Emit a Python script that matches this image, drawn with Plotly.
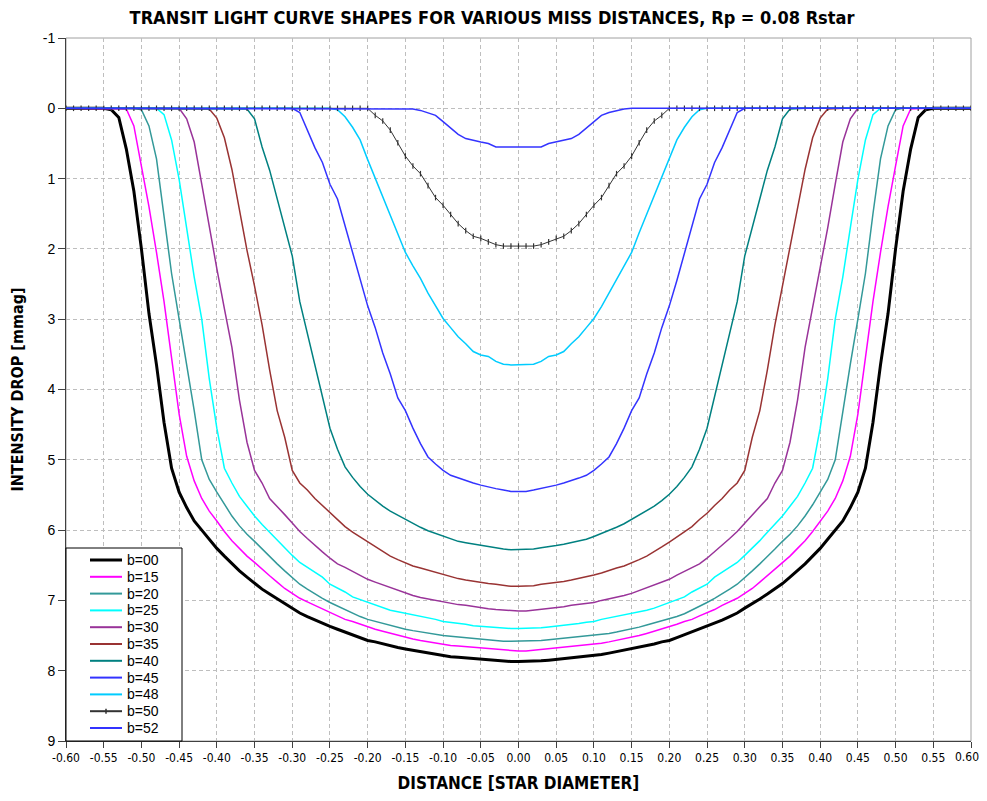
import plotly.graph_objects as go

# distance from mid-transit, star diameters (one sample every 0.01)
distance = [round(-0.60 + 0.01 * i, 2) for i in range(121)]

# axis ticks as Excel prints them (plain hyphen minus)
x_ticks = [-0.60, -0.55, -0.50, -0.45, -0.40, -0.35, -0.30, -0.25, -0.20, -0.15, -0.10, -0.05,
           0.00, 0.05, 0.10, 0.15, 0.20, 0.25, 0.30, 0.35, 0.40, 0.45, 0.50, 0.55, 0.60]
x_tick_labels = ['-0.60', '-0.55', '-0.50', '-0.45', '-0.40', '-0.35', '-0.30', '-0.25', '-0.20',
                 '-0.15', '-0.10', '-0.05', '0.00', '0.05', '0.10', '0.15', '0.20', '0.25',
                 '0.30', '0.35', '0.40', '0.45', '0.50', '0.55', '0.60']
y_ticks = [-1, 0, 1, 2, 3, 4, 5, 6, 7, 8, 9]
y_tick_labels = ['-1', '0', '1', '2', '3', '4', '5', '6', '7', '8', '9']

# intensity drop [mmag], left to right
b00 = [0, 0, 0, 0, 0, 0, 0.02, 0.13, 0.58, 1.18,
       2.00, 2.92, 3.65, 4.47, 5.12, 5.46, 5.68, 5.87, 6.00, 6.13,
       6.26, 6.37, 6.48, 6.58, 6.67, 6.76, 6.84, 6.91, 6.98, 7.05,
       7.11, 7.18, 7.23, 7.28, 7.32, 7.37, 7.41, 7.45, 7.49, 7.53,
       7.57, 7.59, 7.62, 7.64, 7.67, 7.69, 7.71, 7.73, 7.75, 7.77,
       7.79, 7.80, 7.81, 7.82, 7.83, 7.84, 7.85, 7.86, 7.86, 7.87,
       7.87,
       7.87, 7.86, 7.86, 7.85, 7.84, 7.83, 7.82, 7.81, 7.80, 7.79,
       7.77, 7.75, 7.73, 7.71, 7.69, 7.67, 7.64, 7.62, 7.59, 7.57,
       7.53, 7.49, 7.45, 7.41, 7.37, 7.32, 7.28, 7.23, 7.18, 7.11,
       7.05, 6.98, 6.91, 6.84, 6.76, 6.67, 6.58, 6.48, 6.37, 6.26,
       6.13, 6.00, 5.87, 5.68, 5.46, 5.12, 4.47, 3.65, 2.92, 2.00,
       1.18, 0.58, 0.13, 0.02, 0, 0, 0, 0, 0, 0]

b15 = [0, 0, 0, 0, 0, 0, 0, 0, 0.01, 0.25,
       0.82, 1.40, 2.05, 2.75, 3.55, 4.35, 4.95, 5.30, 5.55, 5.73,
       5.87, 6.02, 6.15, 6.26, 6.37, 6.46, 6.56, 6.65, 6.74, 6.83,
       6.90, 6.97, 7.02, 7.07, 7.13, 7.18, 7.22, 7.27, 7.30, 7.34,
       7.38, 7.41, 7.44, 7.47, 7.50, 7.53, 7.55, 7.57, 7.59, 7.61,
       7.62, 7.64, 7.65, 7.66, 7.67, 7.68, 7.69, 7.70, 7.71, 7.72,
       7.72,
       7.72, 7.71, 7.70, 7.69, 7.68, 7.67, 7.66, 7.65, 7.64, 7.62,
       7.61, 7.59, 7.57, 7.55, 7.53, 7.50, 7.47, 7.44, 7.41, 7.38,
       7.34, 7.30, 7.27, 7.22, 7.18, 7.13, 7.07, 7.02, 6.97, 6.90,
       6.83, 6.74, 6.65, 6.56, 6.46, 6.37, 6.26, 6.15, 6.02, 5.87,
       5.73, 5.55, 5.30, 4.95, 4.35, 3.55, 2.75, 2.05, 1.40, 0.82,
       0.25, 0.01, 0, 0, 0, 0, 0, 0, 0, 0]

b20 = [0, 0, 0, 0, 0, 0, 0, 0, 0, 0,
       0.02, 0.25, 0.72, 1.50, 2.35, 3.00, 3.64, 4.30, 5.00, 5.28,
       5.46, 5.64, 5.80, 5.94, 6.06, 6.16, 6.27, 6.38, 6.48, 6.58,
       6.68, 6.77, 6.84, 6.91, 6.97, 7.03, 7.08, 7.14, 7.19, 7.23,
       7.27, 7.30, 7.32, 7.35, 7.38, 7.41, 7.43, 7.45, 7.47, 7.48,
       7.50, 7.51, 7.52, 7.53, 7.54, 7.55, 7.56, 7.57, 7.58, 7.58,
       7.58,
       7.58, 7.58, 7.57, 7.56, 7.55, 7.54, 7.53, 7.52, 7.51, 7.50,
       7.48, 7.47, 7.45, 7.43, 7.41, 7.38, 7.35, 7.32, 7.30, 7.27,
       7.23, 7.19, 7.14, 7.08, 7.03, 6.97, 6.91, 6.84, 6.77, 6.68,
       6.58, 6.48, 6.38, 6.27, 6.16, 6.06, 5.94, 5.80, 5.64, 5.46,
       5.28, 5.00, 4.30, 3.64, 3.00, 2.35, 1.50, 0.72, 0.25, 0.02,
       0, 0, 0, 0, 0, 0, 0, 0, 0, 0]

b25 = [0, 0, 0, 0, 0, 0, 0, 0, 0, 0,
       0, 0, 0, 0.09, 0.45, 1.01, 1.70, 2.40, 3.00, 3.85,
       4.55, 5.12, 5.33, 5.52, 5.66, 5.80, 5.92, 6.03, 6.15, 6.26,
       6.36, 6.46, 6.53, 6.60, 6.67, 6.77, 6.82, 6.88, 6.95, 6.99,
       7.03, 7.07, 7.11, 7.14, 7.16, 7.18, 7.21, 7.23, 7.25, 7.27,
       7.30, 7.31, 7.33, 7.34, 7.36, 7.37, 7.38, 7.39, 7.40, 7.40,
       7.40,
       7.40, 7.40, 7.39, 7.38, 7.37, 7.36, 7.34, 7.33, 7.31, 7.30,
       7.27, 7.25, 7.23, 7.21, 7.18, 7.16, 7.14, 7.11, 7.07, 7.03,
       6.99, 6.95, 6.88, 6.82, 6.77, 6.67, 6.60, 6.53, 6.46, 6.36,
       6.26, 6.15, 6.03, 5.92, 5.80, 5.66, 5.52, 5.33, 5.12, 4.55,
       3.85, 3.00, 2.40, 1.70, 1.01, 0.45, 0.09, 0, 0, 0,
       0, 0, 0, 0, 0, 0, 0, 0, 0, 0]

b30 = [0, 0, 0, 0, 0, 0, 0, 0, 0, 0,
       0, 0, 0, 0, 0, 0, 0.15, 0.48, 1.08, 1.70,
       2.28, 2.85, 3.40, 4.15, 4.75, 5.15, 5.33, 5.55, 5.66, 5.78,
       5.90, 6.02, 6.12, 6.22, 6.31, 6.40, 6.48, 6.53, 6.59, 6.64,
       6.70, 6.74, 6.78, 6.82, 6.86, 6.90, 6.93, 6.96, 6.98, 7.00,
       7.03, 7.04, 7.06, 7.07, 7.09, 7.10, 7.12, 7.13, 7.14, 7.15,
       7.15,
       7.15, 7.14, 7.13, 7.12, 7.10, 7.09, 7.07, 7.06, 7.04, 7.03,
       7.00, 6.98, 6.96, 6.93, 6.90, 6.86, 6.82, 6.78, 6.74, 6.70,
       6.64, 6.59, 6.53, 6.48, 6.40, 6.31, 6.22, 6.12, 6.02, 5.90,
       5.78, 5.66, 5.55, 5.33, 5.15, 4.75, 4.15, 3.40, 2.85, 2.28,
       1.70, 1.08, 0.48, 0.15, 0, 0, 0, 0, 0, 0,
       0, 0, 0, 0, 0, 0, 0, 0, 0, 0]

b35 = [0, 0, 0, 0, 0, 0, 0, 0, 0, 0,
       0, 0, 0, 0, 0, 0, 0, 0, 0, 0.01,
       0.14, 0.42, 0.87, 1.45, 2.02, 2.53, 3.08, 3.72, 4.30, 4.68,
       5.15, 5.33, 5.43, 5.55, 5.65, 5.76, 5.85, 5.95, 6.03, 6.10,
       6.17, 6.24, 6.31, 6.37, 6.42, 6.47, 6.51, 6.54, 6.57, 6.61,
       6.64, 6.67, 6.69, 6.71, 6.73, 6.75, 6.76, 6.77, 6.79, 6.80,
       6.80,
       6.80, 6.79, 6.77, 6.76, 6.75, 6.73, 6.71, 6.69, 6.67, 6.64,
       6.61, 6.57, 6.54, 6.51, 6.47, 6.42, 6.37, 6.31, 6.24, 6.17,
       6.10, 6.03, 5.95, 5.85, 5.76, 5.65, 5.55, 5.43, 5.33, 5.15,
       4.68, 4.30, 3.72, 3.08, 2.53, 2.02, 1.45, 0.87, 0.42, 0.14,
       0.01, 0, 0, 0, 0, 0, 0, 0, 0, 0,
       0, 0, 0, 0, 0, 0, 0, 0, 0, 0]

b40 = [0, 0, 0, 0, 0, 0, 0, 0, 0, 0,
       0, 0, 0, 0, 0, 0, 0, 0, 0, 0,
       0, 0, 0, 0, 0.01, 0.15, 0.55, 0.88, 1.30, 1.68,
       2.10, 2.75, 3.20, 3.62, 4.10, 4.55, 4.85, 5.10, 5.25, 5.38,
       5.49, 5.58, 5.66, 5.73, 5.79, 5.85, 5.91, 5.96, 6.01, 6.05,
       6.09, 6.13, 6.16, 6.18, 6.20, 6.22, 6.24, 6.25, 6.27, 6.28,
       6.28,
       6.28, 6.27, 6.25, 6.24, 6.22, 6.20, 6.18, 6.16, 6.13, 6.09,
       6.05, 6.01, 5.96, 5.91, 5.85, 5.79, 5.73, 5.66, 5.58, 5.49,
       5.38, 5.25, 5.10, 4.85, 4.55, 4.10, 3.62, 3.20, 2.75, 2.10,
       1.68, 1.30, 0.88, 0.55, 0.15, 0.01, 0, 0, 0, 0,
       0, 0, 0, 0, 0, 0, 0, 0, 0, 0,
       0, 0, 0, 0, 0, 0, 0, 0, 0, 0]

b45 = [0, 0, 0, 0, 0, 0, 0, 0, 0, 0,
       0, 0, 0, 0, 0, 0, 0, 0, 0, 0,
       0, 0, 0, 0, 0, 0, 0, 0, 0, 0,
       0, 0.06, 0.30, 0.56, 0.77, 1.08, 1.29, 1.68, 2.05, 2.45,
       2.81, 3.12, 3.48, 3.78, 4.12, 4.30, 4.55, 4.77, 4.96, 5.06,
       5.15, 5.22, 5.26, 5.30, 5.33, 5.36, 5.39, 5.41, 5.43, 5.45,
       5.45,
       5.45, 5.43, 5.41, 5.39, 5.36, 5.33, 5.30, 5.26, 5.22, 5.15,
       5.06, 4.96, 4.77, 4.55, 4.30, 4.12, 3.78, 3.48, 3.12, 2.81,
       2.45, 2.05, 1.68, 1.29, 1.08, 0.77, 0.56, 0.30, 0.06, 0,
       0, 0, 0, 0, 0, 0, 0, 0, 0, 0,
       0, 0, 0, 0, 0, 0, 0, 0, 0, 0,
       0, 0, 0, 0, 0, 0, 0, 0, 0, 0]

b48 = [0, 0, 0, 0, 0, 0, 0, 0, 0, 0,
       0, 0, 0, 0, 0, 0, 0, 0, 0, 0,
       0, 0, 0, 0, 0, 0, 0, 0, 0, 0,
       0, 0, 0, 0, 0, 0, 0.02, 0.12, 0.27, 0.45,
       0.73, 0.99, 1.25, 1.51, 1.77, 2.05, 2.24, 2.42, 2.63, 2.82,
       2.99, 3.12, 3.25, 3.35, 3.46, 3.51, 3.53, 3.60, 3.64, 3.65,
       3.65,
       3.65, 3.64, 3.60, 3.53, 3.51, 3.46, 3.35, 3.25, 3.12, 2.99,
       2.82, 2.63, 2.42, 2.24, 2.05, 1.77, 1.51, 1.25, 0.99, 0.73,
       0.45, 0.27, 0.12, 0.02, 0, 0, 0, 0, 0, 0,
       0, 0, 0, 0, 0, 0, 0, 0, 0, 0,
       0, 0, 0, 0, 0, 0, 0, 0, 0, 0,
       0, 0, 0, 0, 0, 0, 0, 0, 0, 0]

b50 = [0, 0, 0, 0, 0, 0, 0, 0, 0, 0,
       0, 0, 0, 0, 0, 0, 0, 0, 0, 0,
       0, 0, 0, 0, 0, 0, 0, 0, 0, 0,
       0, 0, 0, 0, 0, 0, 0, 0, 0, 0,
       0, 0.10, 0.18, 0.31, 0.49, 0.68, 0.82, 0.93, 1.10, 1.27,
       1.38, 1.51, 1.64, 1.74, 1.82, 1.85, 1.90, 1.94, 1.96, 1.96,
       1.96,
       1.96, 1.96, 1.94, 1.90, 1.85, 1.82, 1.74, 1.64, 1.51, 1.38,
       1.27, 1.10, 0.93, 0.82, 0.68, 0.49, 0.31, 0.18, 0.10, 0,
       0, 0, 0, 0, 0, 0, 0, 0, 0, 0,
       0, 0, 0, 0, 0, 0, 0, 0, 0, 0,
       0, 0, 0, 0, 0, 0, 0, 0, 0, 0,
       0, 0, 0, 0, 0, 0, 0, 0, 0, 0]

b52 = [0, 0, 0, 0, 0, 0, 0, 0, 0, 0,
       0, 0, 0, 0, 0, 0, 0, 0, 0, 0,
       0, 0, 0, 0, 0, 0, 0, 0, 0, 0,
       0, 0, 0, 0, 0, 0, 0, 0, 0, 0,
       0, 0, 0, 0, 0, 0, 0.01, 0.03, 0.06, 0.10,
       0.19, 0.28, 0.37, 0.43, 0.46, 0.48, 0.50, 0.55, 0.55, 0.55,
       0.55,
       0.55, 0.55, 0.55, 0.50, 0.48, 0.46, 0.43, 0.37, 0.28, 0.19,
       0.10, 0.06, 0.03, 0.01, 0, 0, 0, 0, 0, 0,
       0, 0, 0, 0, 0, 0, 0, 0, 0, 0,
       0, 0, 0, 0, 0, 0, 0, 0, 0, 0,
       0, 0, 0, 0, 0, 0, 0, 0, 0, 0,
       0, 0, 0, 0, 0, 0, 0, 0, 0, 0]

names = ['b=00', 'b=15', 'b=20', 'b=25', 'b=30', 'b=35', 'b=40', 'b=45', 'b=48', 'b=50', 'b=52']
curves = [b00, b15, b20, b25, b30, b35, b40, b45, b48, b50, b52]
colors = ['#000000', '#FF00FF', '#339999', '#00FFFF', '#993399', '#993333',
          '#008080', '#3333FF', '#00CCFF', '#333333', '#3333FF']

for c in curves:
    assert len(c) == len(distance)

NARROW = "Liberation Sans Narrow, Arial Narrow, DejaVu Sans Condensed, sans-serif"
SANS = "Liberation Sans, Arial, sans-serif"

fig = go.Figure()
for name, y, col in zip(names, curves, colors):
    if name == 'b=50':
        fig.add_trace(go.Scatter(x=distance, y=y, name=name, mode='lines+markers',
                                 line=dict(color=col, width=1),
                                 marker=dict(symbol='line-ns-open', size=4,
                                             line=dict(color=col, width=1.2))))
    else:
        fig.add_trace(go.Scatter(x=distance, y=y, name=name, mode='lines',
                                 line=dict(color=col, width=3 if name == 'b=00' else 1.5)))

# Excel style legend box in the lower left corner, drawn by hand
# (plotly's own legend rows are too tall); sizes in screen pixels
PLOT_L, PLOT_R, PLOT_T, PLOT_B = 66, 971, 38, 741


def px_x(sx):
    return (sx - PLOT_L) / (PLOT_R - PLOT_L)


def px_y(sy):
    return (PLOT_B - sy) / (PLOT_B - PLOT_T)


shapes = [dict(type='rect', xref='paper', yref='paper', x0=0, x1=1, y0=0, y1=1,
               line=dict(color='#A0A0A0', width=1), layer='below'),
          dict(type='rect', xref='paper', yref='paper',
               x0=px_x(PLOT_L), x1=px_x(182), y0=px_y(PLOT_B), y1=px_y(548),
               fillcolor='white', line=dict(color='black', width=1), layer='above')]
annotations = []
for i, (name, col) in enumerate(zip(names, colors)):
    row = 560 + 16.8 * i
    shapes.append(dict(type='line', xref='paper', yref='paper',
                       x0=px_x(90), x1=px_x(122), y0=px_y(row), y1=px_y(row),
                       line=dict(color=col, width=3 if name == 'b=00' else 2), layer='above'))
    if name == 'b=50':
        shapes.append(dict(type='line', xref='paper', yref='paper',
                           x0=px_x(106), x1=px_x(106), y0=px_y(row - 2.5), y1=px_y(row + 2.5),
                           line=dict(color=col, width=1.5), layer='above'))
    annotations.append(dict(text=name, xref='paper', yref='paper', x=px_x(125), y=px_y(row),
                            xanchor='left', yanchor='middle', showarrow=False,
                            font=dict(family=SANS, size=14, color='black')))

# the last x label sits on the page edge: draw it nudged inwards so it is not clipped
x_tick_text = x_tick_labels[:-1] + ['']
annotations.append(dict(text=x_tick_labels[-1], xref='paper', yref='paper', x=1, y=0,
                        xanchor='center', yanchor='middle', xshift=-4, yshift=-16,
                        showarrow=False, font=dict(family=NARROW, size=12, color='black')))

# the page body adds an 8 px margin on every side; keep the figure inside the
# 987x801 window so no scrollbars appear
fig.update_layout(
    width=971, height=785,
    margin=dict(l=58, r=8, t=30, b=52),
    paper_bgcolor='white', plot_bgcolor='white',
    title=dict(text='<b>TRANSIT LIGHT CURVE SHAPES FOR VARIOUS MISS DISTANCES, Rp = 0.08 Rstar</b>',
               x=484 / 971, xref='container', xanchor='center',
               y=1 - 3 / 785, yref='container', yanchor='top',
               font=dict(family=NARROW, size=18, color='black')),
    showlegend=False,
    shapes=shapes,
    annotations=annotations,
    xaxis=dict(
        range=[-0.6, 0.6], tickvals=x_ticks, ticktext=x_tick_text,
        ticks='outside', ticklen=6, tickcolor='#404040',
        showline=True, linecolor='#404040', automargin=False,
        showgrid=True, gridcolor='#BEBEBE', griddash='4px,3px', gridwidth=1,
        zeroline=False,
        tickfont=dict(family=NARROW, size=12, color='black'),
        title=dict(text='<b>DISTANCE [STAR DIAMETER]</b>', standoff=15,
                   font=dict(family=NARROW, size=17, color='black')),
    ),
    yaxis=dict(
        range=[9, -1], tickvals=y_ticks, ticktext=y_tick_labels,
        ticks='outside', ticklen=7, tickcolor='#404040',
        showline=True, linecolor='#404040', automargin=False,
        showgrid=True, gridcolor='#BEBEBE', griddash='4px,3px', gridwidth=1,
        zeroline=False,
        tickfont=dict(family=SANS, size=14, color='black'),
        title=dict(text='<b>INTENSITY DROP [mmag]</b>', standoff=17,
                   font=dict(family=NARROW, size=16, color='black')),
    ),
)

fig.write_html("out.html")
